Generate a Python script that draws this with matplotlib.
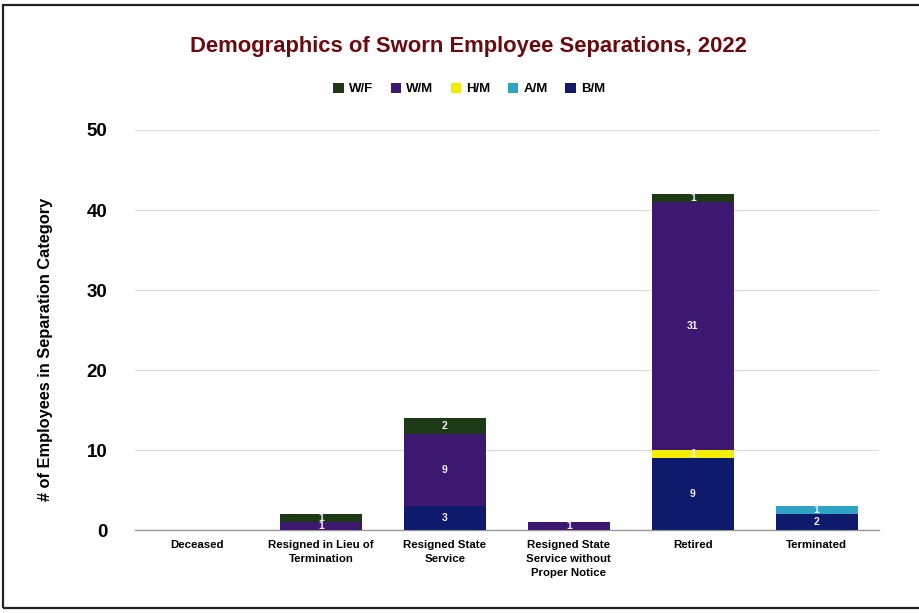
import matplotlib
matplotlib.use("Agg")
import matplotlib.pyplot as plt
from matplotlib.patches import Rectangle
import numpy as np

plt.rcParams['font.family'] = ['Liberation Sans', 'DejaVu Sans']

categories = ["Deceased", "Resigned in Lieu of\nTermination", "Resigned State\nService",
              "Resigned State\nService without\nProper Notice", "Retired", "Terminated"]
# stacked bottom to top
series_names = ["B/M", "A/M", "H/M", "W/M", "W/F"]
b_m = [0, 0, 3, 0, 9, 2]
a_m = [0, 0, 0, 0, 0, 1]
h_m = [0, 0, 0, 0, 1, 0]
w_m = [0, 1, 9, 1, 31, 0]
w_f = [0, 1, 2, 0, 1, 0]
series_values = [b_m, a_m, h_m, w_m, w_f]
colors = {"B/M": "#0e1a6c", "A/M": "#2ea3c6", "H/M": "#f4ee00",
          "W/M": "#3c1870", "W/F": "#1c3a16"}
y_ticks = [0, 10, 20, 30, 40, 50]

fig = plt.figure(figsize=(9.2, 6.13), dpi=100)
fig.patch.set_facecolor("white")
fig.add_artist(Rectangle((0.003, 0.008), 1.2, 0.984, transform=fig.transFigure,
                         fill=False, edgecolor="#222222", linewidth=1.6))

ax = fig.add_axes([0.147, 0.135, 0.808, 0.653])
x = np.arange(len(categories))
bottom = np.zeros(len(categories))
handles = {}
for name, vals in zip(series_names, series_values):
    vals = np.array(vals, dtype=float)
    bars = ax.bar(x, vals, 0.66, bottom=bottom, color=colors[name], label=name, zorder=3)
    handles[name] = bars
    for xi, v, b in zip(x, vals, bottom):
        if v > 0:
            ax.text(xi, b + v / 2, f"{int(v)}", ha="center", va="center",
                    color="#f4eef8", fontsize=7.5, fontweight="bold", zorder=4)
    bottom += vals

ax.set_xlim(-0.5, len(categories) - 0.5)
ax.set_ylim(0, 50)
ax.set_yticks(y_ticks)
ax.set_yticklabels([str(t) for t in y_ticks], fontsize=13.5, fontweight="bold")
ax.set_xticks(x)
ax.set_xticklabels(categories, fontsize=8.2, fontweight="bold", linespacing=1.5)
ax.tick_params(axis="x", length=0, pad=7)
ax.tick_params(axis="y", length=0, pad=20)
ax.grid(axis="y", color="#dddddd", linewidth=0.9, zorder=0)
for s in ["top", "right", "left"]:
    ax.spines[s].set_visible(False)
ax.spines["bottom"].set_color("#999999")
ax.spines["bottom"].set_linewidth(1.0)

fig.text(0.049, 0.43, "# of Employees in Separation Category", rotation=90,
         ha="center", va="center", fontsize=11.8, fontweight="bold")

fig.text(0.509, 0.924, "Demographics of Sworn Employee Separations, 2022", ha="center", va="center",
         fontsize=15.8, fontweight="bold", color="#6b0a0e")

order = ["W/F", "W/M", "H/M", "A/M", "B/M"]
fig.legend([handles[n] for n in order], order, loc="center", bbox_to_anchor=(0.510, 0.855),
           ncol=5, frameon=False, prop={"weight": "bold", "size": 9.5},
           handlelength=0.8, handleheight=0.8, columnspacing=1.3, handletextpad=0.4)

fig.savefig("out.png", dpi=100, facecolor="white")
